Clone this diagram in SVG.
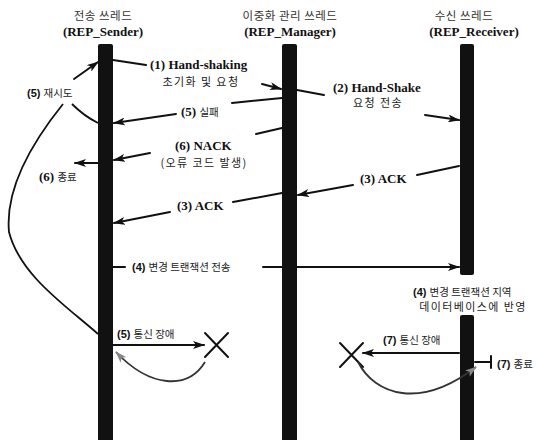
<svg xmlns="http://www.w3.org/2000/svg" width="552" height="440" viewBox="0 0 552 440">
  <style>
    .bar { fill: #111; }
    .ln { stroke: #111; stroke-width: 2; fill: none; stroke-linecap: round; }
    .cv { stroke: #111; stroke-width: 1.8; fill: none; }
    .gc { stroke: #333; stroke-width: 1.8; fill: none; }
    .lat { font-family: "Liberation Serif", serif; font-weight: bold; font-size: 13px; fill: #111; }
    .sn { font-family: "Liberation Sans", sans-serif; font-weight: bold; font-size: 11px; fill: #111; }
    .ko { font-family: "Noto Sans CJK KR", sans-serif; font-weight: normal; font-size: 10.5px; fill: #222; }
    .wide { font-size: 11px; letter-spacing: 1.4px; }
    .hd { font-family: "Noto Sans CJK KR", sans-serif; font-size: 11.5px; fill: #333; text-anchor: middle; letter-spacing: 0.5px; }
    .hl { font-family: "Liberation Serif", serif; font-weight: bold; font-size: 13px; fill: #111; text-anchor: middle; }
    .mid { text-anchor: middle; }
  </style>
  <defs>
    <marker id="ah" markerUnits="userSpaceOnUse" markerWidth="12" markerHeight="8" refX="11" refY="4" orient="auto">
      <path d="M0,0 L12,4 L0,8 L3,4 z" fill="#111"/>
    </marker>
    <marker id="ahg" markerUnits="userSpaceOnUse" markerWidth="12" markerHeight="8" refX="11" refY="4" orient="auto">
      <path d="M0,0 L12,4 L0,8 L3,4 z" fill="#888"/>
    </marker>
  </defs>

  <!-- thread lifelines -->
  <g id="sender">
    <text class="hd" x="103" y="20">전송 쓰레드</text>
    <text class="hl" x="103" y="36">(REP_Sender)</text>
    <rect class="bar" x="98" y="44" width="15" height="400" rx="2"/>
  </g>
  <g id="manager">
    <text class="hd" x="290" y="20">이중화 관리 쓰레드</text>
    <text class="hl" x="290" y="36">(REP_Manager)</text>
    <rect class="bar" x="282" y="44" width="15" height="400" rx="2"/>
  </g>
  <g id="receiver">
    <text class="hd" x="464" y="20">수신 쓰레드</text>
    <text class="hl" x="474" y="36">(REP_Receiver)</text>
    <rect class="bar" x="460" y="44" width="14" height="231" rx="2"/>
    <rect class="bar" x="460" y="315" width="14" height="130" rx="2"/>
  </g>

  <!-- X marks for communication failures -->
  <g id="fail-sender">
    <path class="ln" d="M205,333 L228,357 M228,333 L205,357"/>
  </g>
  <g id="fail-receiver">
    <path class="ln" d="M340,343 L363,367 M363,343 L340,367"/>
  </g>

  <!-- messages -->
  <g id="connectors">
    <!-- (1) handshake request -->
    <path class="ln" d="M113,60 L146,65"/>
    <path class="ln" d="M262,84 L281,89" marker-end="url(#ah)"/>
    <!-- (2) handshake forward -->
    <path class="ln" d="M297,90 L324,95"/>
    <path class="ln" d="M425,115 L459,120" marker-end="url(#ah)"/>
    <!-- (5) failure back to sender -->
    <path class="ln" d="M282,98 L232,103"/>
    <path class="ln" d="M176,114 L114,123" marker-end="url(#ah)"/>
    <!-- (6) NACK -->
    <path class="ln" d="M282,128 L256,134"/>
    <path class="ln" d="M150,153 L114,160" marker-end="url(#ah)"/>
    <!-- (6) terminate -->
    <path class="ln" d="M98,163 L75,163" marker-end="url(#ah)"/>
    <!-- (3) ACK receiver to manager -->
    <path class="ln" d="M459,166 L417,175"/>
    <path class="ln" d="M353,185 L298,195" marker-end="url(#ah)"/>
    <!-- (3) ACK manager to sender -->
    <path class="ln" d="M282,193 L233,202"/>
    <path class="ln" d="M170,212 L114,223" marker-end="url(#ah)"/>
    <!-- (4) change transaction -->
    <path class="ln" d="M113,267 L125,267"/>
    <path class="ln" d="M263,267 L459,267" marker-end="url(#ah)"/>
    <!-- (5) retry loops -->
    <path class="cv" d="M72,104 Q84,116 98,123"/>
    <path class="cv" d="M63,104 C30,145 5,190 9,232 C20,275 65,305 98,334"/>
    <path class="ln" d="M74,79 L98,62" marker-end="url(#ah)"/>
    <!-- (5) sender link failure -->
    <path class="ln" d="M113,345 L204,345" marker-end="url(#ah)"/>
    <path class="gc" d="M205,362 C188,390 150,388 116,352" marker-end="url(#ahg)"/>
    <!-- (7) receiver link failure -->
    <path class="ln" d="M459,353 L363,353" marker-end="url(#ah)"/>
    <path class="gc" d="M358,362 C375,395 420,410 476,367" marker-end="url(#ahg)"/>
    <!-- (7) terminate -->
    <path class="ln" d="M475,362 L491,362 M491,356 L491,368"/>
  </g>

  <!-- message labels -->
  <g id="labels">
    <text class="lat" x="150" y="69">(1) Hand-shaking</text>
    <text class="ko wide mid" x="201" y="86">초기화 및 요청</text>
    <text class="lat" x="333" y="92">(2) Hand-Shake</text>
    <text class="ko wide mid" x="378" y="107">요청 전송</text>
    <text class="sn" x="27" y="97">(5) <tspan class="ko">재시도</tspan></text>
    <text class="lat" x="181" y="116">(5) <tspan class="ko">실패</tspan></text>
    <text class="lat" x="175" y="150">(6) NACK</text>
    <text class="ko wide mid" x="204" y="167">(오류 코드 발생)</text>
    <text class="lat" x="39" y="181">(6) <tspan class="ko">종료</tspan></text>
    <text class="lat" x="360" y="183">(3) ACK</text>
    <text class="lat" x="177" y="210">(3) ACK</text>
    <text class="sn" x="132" y="271">(4) <tspan class="ko">변경 트랜잭션 전송</tspan></text>
    <text class="sn" x="413" y="296">(4) <tspan class="ko">변경 트랜잭션 지역</tspan></text>
    <text class="ko wide mid" x="473" y="311">데이터베이스에 반영</text>
    <text class="sn" x="117" y="338">(5) <tspan class="ko">통신 장애</tspan></text>
    <text class="sn" x="383" y="344">(7) <tspan class="ko">통신 장애</tspan></text>
    <text class="sn" x="497" y="368">(7) <tspan class="ko">종료</tspan></text>
  </g>
</svg>
